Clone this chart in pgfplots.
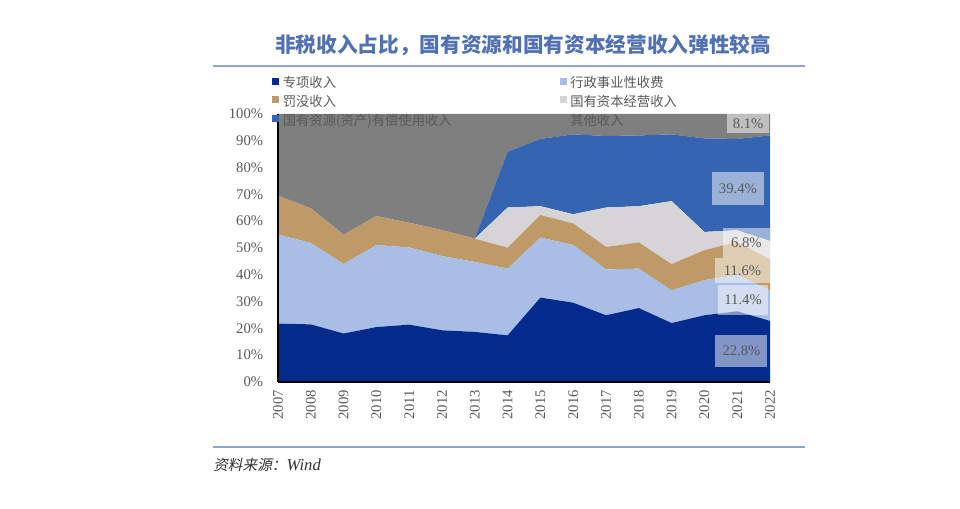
\documentclass[border=0pt]{standalone}
\usepackage{pgfplots}
\pgfplotsset{compat=1.18}
\usepackage{pgfplotstable}
\usepackage{fontspec}
\setmainfont{Liberation Serif}
\newfontfamily\cjk{Noto Sans CJK SC}
\newfontfamily\cjkit{Noto Sans CJK SC}[FakeSlant=0.2]
\definecolor{cA}{HTML}{032B8E}
\definecolor{cB}{HTML}{A9BEE6}
\definecolor{cC}{HTML}{BE9A68}
\definecolor{cD}{HTML}{D6D4D6}
\definecolor{cE}{HTML}{3565B0}
\definecolor{cF}{HTML}{7F7F7F}
\definecolor{lineblue}{HTML}{8EA3D0}
\definecolor{titleblue}{HTML}{5071B3}
\definecolor{tickgray}{HTML}{595959}
\tikzset{lab/.style={fill=white, fill opacity=0.5, text opacity=1, text=tickgray, inner sep=0pt, font=\fontsize{11}{12}\selectfont}}
\pgfplotstableread{
year a b c d e f
2007 21.8 33.2 14.5 0 0 30.5
2008 21.5 30.4 12.9 0 0 35.2
2009 18.1 25.9 11.0 0 0 45.0
2010 20.5 30.6 10.8 0 0 38.1
2011 21.4 28.8 9.2 0 0 40.6
2012 19.3 27.7 9.7 0 0 43.3
2013 18.7 26.1 8.7 0 0 46.5
2014 17.4 24.9 7.8 15.0 20.8 14.1
2015 31.5 22.4 8.4 3.3 25.1 9.3
2016 29.6 21.5 8.1 3.4 29.8 7.6
2017 24.9 17.1 8.4 14.7 26.7 8.2
2018 27.6 14.7 9.8 13.5 26.4 8.0
2019 22.0 12.2 9.8 23.5 24.9 7.6
2020 24.9 13.1 11.2 6.8 34.9 9.1
2021 26.4 13.6 12.3 4.3 34.1 9.3
2022 22.8 11.4 11.6 6.8 39.4 8.0
}\datatable
\begin{document}
\begin{tikzpicture}
\begin{scope}[x=0.75pt,y=-0.75pt]
\path[use as bounding box] (0,0) rectangle (960,509);
\node[text=titleblue, font=\cjk\bfseries\fontsize{15.5}{18}\selectfont] at (523,45) {非税收入占比，国有资源和国有资本经营收入弹性较高};
\draw[lineblue, line width=1.5pt] (213,66) -- (805,66);
\draw[lineblue, line width=1.5pt] (213,447) -- (805,447);
\node[anchor=west, inner sep=0pt, text=black!80, font=\fontsize{11}{13}\selectfont] at (213,465) {{\cjkit 资料来源：}{\rmfamily\itshape\fontsize{12.5}{14}\selectfont Wind}};
\end{scope}
\begin{axis}[
  at={(208.5pt,-286.5pt)}, anchor=south west,
  scale only axis, width=369pt, height=201pt,
  xmin=2007, xmax=2022, ymin=0, ymax=100,
  stack plots=y,
  axis x line*=bottom, axis y line*=left,
  axis line style={-, black, line width=1pt},
  axis on top,
  major tick length=0pt,
  xtick={2007,2008,2009,2010,2011,2012,2013,2014,2015,2016,2017,2018,2019,2020,2021,2022},
  xticklabels={2007,2008,2009,2010,2011,2012,2013,2014,2015,2016,2017,2018,2019,2020,2021,2022},
  xticklabel style={rotate=90, anchor=east, text=tickgray, inner xsep=6pt, font=\fontsize{11}{12}\selectfont},
  ytick={0,10,20,30,40,50,60,70,80,90,100},
  yticklabels={0\%,10\%,20\%,30\%,40\%,50\%,60\%,70\%,80\%,90\%,100\%},
  yticklabel style={text=tickgray, inner xsep=11pt, font=\fontsize{11}{12}\selectfont},
  legend columns=2,
  legend image code/.code={\path[#1] (0pt,-0.6pt) rectangle (5.2pt,4.6pt);},
  legend style={at={(-0.012,1.138)}, anchor=north west, draw=none, fill=none, inner sep=0pt,
    font=\cjk\fontsize{10}{12}\selectfont, text=tickgray, row sep=3.9pt,
    nodes={inner ysep=0pt, inner xsep=2.6pt, text height=8pt, text depth=2pt},
    /tikz/every even column/.append style={column sep=78.5pt}},
  legend cell align=left,
]
\addplot[fill=cA, draw=none] table[x=year,y=a] {\datatable} \closedcycle;
\addlegendentry{专项收入}
\addplot[fill=cB, draw=none] table[x=year,y=b] {\datatable} \closedcycle;
\addlegendentry{行政事业性收费}
\addplot[fill=cC, draw=none] table[x=year,y=c] {\datatable} \closedcycle;
\addlegendentry{罚没收入}
\addplot[fill=cD, draw=none] table[x=year,y=d] {\datatable} \closedcycle;
\addlegendentry{国有资本经营收入}
\addplot[fill=cE, draw=none] table[x=year,y=e] {\datatable} \closedcycle;
\addlegendentry{国有资源(资产)有偿使用收入}
\addplot[fill=cF, draw=none] table[x=year,y=f] {\datatable} \closedcycle;
\addlegendentry{其他收入}
\coordinate (L1) at (axis cs:2021.33,96.5);
\coordinate (L2) at (axis cs:2021.02,72.2);
\coordinate (L3) at (axis cs:2021.28,51.9);
\coordinate (L4) at (axis cs:2021.16,41.6);
\coordinate (L5) at (axis cs:2021.18,30.6);
\coordinate (L6) at (axis cs:2021.13,11.6);
\end{axis}
\node[lab, minimum width=31.5pt, minimum height=14.25pt] at (L1) {8.1\%};
\node[lab, minimum width=39pt, minimum height=24.75pt] at (L2) {39.4\%};
\node[lab, minimum width=35.25pt, minimum height=22.5pt] at (L3) {6.8\%};
\node[lab, minimum width=41.25pt, minimum height=18.75pt] at (L4) {11.6\%};
\node[lab, minimum width=37.5pt, minimum height=22.5pt] at (L5) {11.4\%};
\node[lab, minimum width=39pt, minimum height=24pt] at (L6) {22.8\%};
\end{tikzpicture}
\end{document}
